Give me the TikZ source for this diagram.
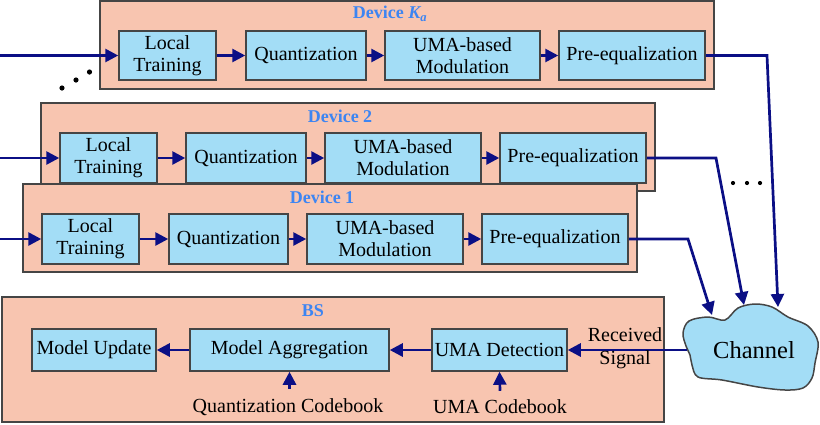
\documentclass[tikz,border=0pt]{standalone}
\usepackage{fontspec}
\setmainfont{Liberation Serif}
\usetikzlibrary{arrows.meta}
\definecolor{salmon}{HTML}{F8C5B0}
\definecolor{lblue}{HTML}{A3DDF6}
\definecolor{tblue}{HTML}{3D85F2}
\definecolor{navy}{HTML}{0B0F85}
\definecolor{bgray}{HTML}{454545}
\tikzset{
 dev/.style={draw=bgray, line width=1.6pt, fill=salmon, inner sep=0},
 blk/.style={draw=bgray, line width=1.5pt, fill=lblue, inner sep=0, align=center, font=\fontsize{20}{22}\selectfont},
 ttl/.style={text=tblue, font=\fontsize{18}{20}\selectfont\bfseries, inner sep=0},
 arr/.style={draw=navy, line width=2.7pt, -{Triangle[length=13pt,width=13pt]}},
 lbl/.style={font=\fontsize{20}{23}\selectfont, align=center, inner sep=0},
 dotf/.style={fill=black}
}
\newcommand\mybox[7]{\node[#1,minimum width={(#4)-(#3)},minimum height={(#6)-(#5)}] (#2) at ({((#3)+(#4))/2},{((#5)+(#6))/2}) {#7};}
\begin{document}
\begin{tikzpicture}[x=1pt,y=-1pt]
\useasboundingbox (0,0) rectangle (820,424);

% ---------- Device Ka ----------
\mybox{dev}{devk}{100}{714}{1}{89}{}
\node[ttl] (tk) at (390,14) {Device {\itshape K}\textsubscript{\itshape a}};
\mybox{blk}{ltk}{119}{216}{31}{80}{Local\\Training}
\mybox{blk}{qk}{246}{366}{31}{80}{Quantization}
\mybox{blk}{uk}{385}{540}{31}{80}{UMA-based\\Modulation}
\mybox{blk}{pek}{559}{705}{31}{80}{Pre-equalization}
\coordinate (ink) at (0,55.5);
\draw[arr] (ink) -- (ltk.west);
\draw[arr] (ltk) -- (qk);
\draw[arr] (qk) -- (uk);
\draw[arr] (uk) -- (pek);

% dots
\fill[dotf] (62,88) circle (2.6);
\fill[dotf] (76,80) circle (2.6);
\fill[dotf] (89.5,72) circle (2.6);

% ---------- Device 2 ----------
\mybox{dev}{dev2}{41}{655}{103}{191}{}
\node[ttl] (t2) at (340,116) {Device 2};
\mybox{blk}{lt2}{60}{157}{133}{183}{Local\\Training}
\mybox{blk}{q2}{186}{306}{133}{183}{Quantization}
\mybox{blk}{u2}{325}{481}{133}{183}{UMA-based\\Modulation}
\mybox{blk}{pe2}{500}{646}{133}{183}{Pre-equalization}
\coordinate (in2) at (0,158);
\draw[arr] (in2) -- (lt2.west);
\draw[arr] (lt2) -- (q2);
\draw[arr] (q2) -- (u2);
\draw[arr] (u2) -- (pe2);

% ---------- Device 1 ----------
\mybox{dev}{dev1}{23}{637}{184}{272}{}
\node[ttl] (t1) at (322,197) {Device 1};
\mybox{blk}{lt1}{42}{139}{214}{264}{Local\\Training}
\mybox{blk}{q1}{169}{288}{214}{264}{Quantization}
\mybox{blk}{u1}{307}{463}{214}{264}{UMA-based\\Modulation}
\mybox{blk}{pe1}{482}{628}{214}{264}{Pre-equalization}
\coordinate (in1) at (0,239);
\draw[arr] (in1) -- (lt1.west);
\draw[arr] (lt1) -- (q1);
\draw[arr] (q1) -- (u1);
\draw[arr] (u1) -- (pe1);

% ---------- BS ----------
\mybox{dev}{bs}{2}{664}{297}{422}{}
\node[ttl] (tb) at (313,311) {BS};
\mybox{blk}{mu}{32}{156}{329}{371}{Model Update}
\mybox{blk}{ma}{190}{389}{329}{371}{Model Aggregation}
\mybox{blk}{ud}{432}{567}{329}{371}{UMA Detection}
\draw[arr] (ud) -- (ma);
\draw[arr] (ma) -- (mu);
\node[lbl] (qc) at (288,407) {Quantization Codebook};
\node[lbl] (uc) at (500,407) {UMA Codebook};
\draw[arr] ([yshift=9pt]qc.north -| ma.south) -- (ma.south);
\draw[arr] ([yshift=9pt]uc.north) -- (ud.south);

% ---------- Channel ----------
\draw[draw=bgray, line width=1.5pt, fill=lblue] plot[smooth cycle, tension=0.55] coordinates {
 (683,333) (689,321) (708,317) (725,320) (738,308) (755,304) (772,307) (788,317)
 (808,326) (818,342) (815,363) (812,378) (803,388) (785,390) (758,387) (722,380)
 (698,377) (692,365) (690,355) (686,346)};
\node[font=\fontsize{24.5}{26}\selectfont, inner sep=0] (ch) at (754,350) {Channel};
\coordinate (c1) at (712,315);
\coordinate (c2) at (744,305);
\coordinate (c3) at (778,307);
\coordinate (chl) at (687,350);
\draw[arr] (pe1.east) -- (688,239) -- (c1);
\draw[arr] (pe2.east) -- (716,158) -- (c2);
\draw[arr] (pek.east) -- (767,55.5) -- (c3);
\fill[dotf] (733,183) circle (2.1);
\fill[dotf] (747,183) circle (2.1);
\fill[dotf] (760,183) circle (2.1);
\draw[arr] (chl) -- (ud.east);
\node[lbl] (rs) at (625,348) {Received\\Signal};
\end{tikzpicture}
\end{document}
